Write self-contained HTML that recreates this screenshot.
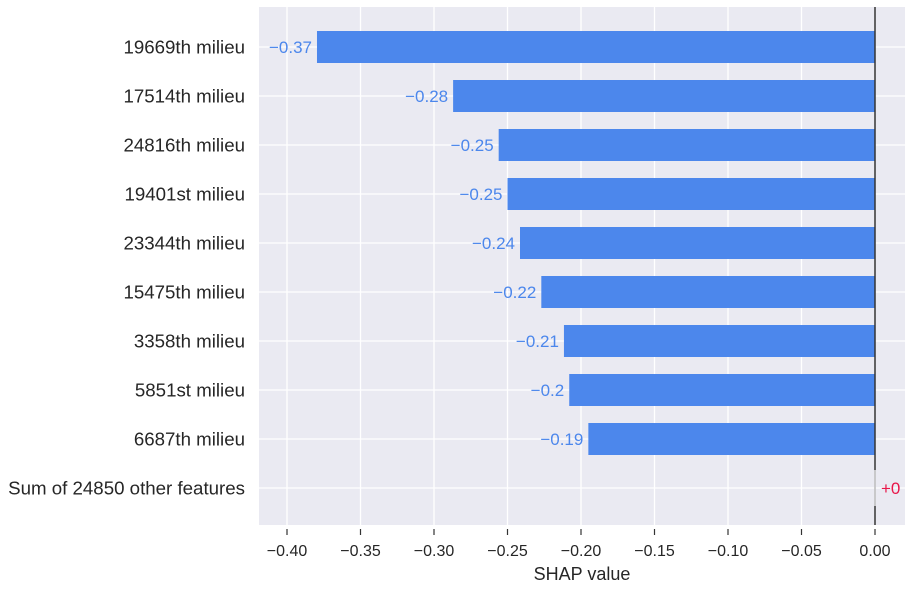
<!DOCTYPE html>
<html><head><meta charset="utf-8"><style>
body{margin:0;background:#fff;width:911px;height:588px;overflow:hidden}
text{font-family:"Liberation Sans",sans-serif}
</style></head><body>
<svg id="c" width="911" height="588"></svg>
<script>
const features=["19669th milieu","17514th milieu","24816th milieu","19401st milieu","23344th milieu","15475th milieu","3358th milieu","5851st milieu","6687th milieu","Sum of 24850 other features"];
const values=[-0.3796,-0.287,-0.256,-0.250,-0.2415,-0.227,-0.2116,-0.208,-0.195,0];
const valueLabels=["\u22120.37","\u22120.28","\u22120.25","\u22120.25","\u22120.24","\u22120.22","\u22120.21","\u22120.2","\u22120.19","+0"];
const ticks=[-0.40,-0.35,-0.30,-0.25,-0.20,-0.15,-0.10,-0.05,0.00];
const tickLabels=["\u22120.40","\u22120.35","\u22120.30","\u22120.25","\u22120.20","\u22120.15","\u22120.10","\u22120.05","0.00"];
const L=259,R=905,T=7,B=525;
const x=v=>875+v*1470;
const y=i=>47+i*49;
const svg=document.getElementById('c');const NS="http://www.w3.org/2000/svg";
function mk(t,a,p){const e=document.createElementNS(NS,t);for(const k in a)e.setAttribute(k,a[k]);(p||svg).appendChild(e);return e;}
let bg=mk('rect',{x:L,y:T,width:R-L,height:B-T,fill:'#eaeaf2'});


ticks.forEach((t,i)=>{
 let g=mk('line',{x1:x(t),x2:x(t),y1:T,y2:B,stroke:'#fff','stroke-width':1.3});
 
 
 let tk=mk('line',{x1:x(t),x2:x(t),y1:B+4,y2:B+10,stroke:'#333','stroke-width':1.2});
 
 
 let tl=mk('text',{x:x(t),y:B+31,'text-anchor':'middle','font-size':16,fill:'#262626'});tl.textContent=tickLabels[i];
 
 
});
features.forEach((f,i)=>{
 let g=mk('line',{x1:L,x2:R,y1:y(i),y2:y(i),stroke:'#fff','stroke-width':1.3});
 
 
 let lab=mk('text',{x:245,y:y(i)+6.5,'text-anchor':'end','font-size':18.7,fill:'#262626'});lab.textContent=f;
 
 
});
values.forEach((v,i)=>{
 if(v<0){
  let b=mk('rect',{x:x(v),y:y(i)-16,width:x(0)-x(v),height:32,fill:'#4c87ec'});
  
  
  let t=mk('text',{x:x(v)-5,y:y(i)+6,'text-anchor':'end','font-size':17,fill:'#4c87ec'});t.textContent=valueLabels[i];
  
  
 } else {
  let t=mk('text',{x:x(v)+6,y:y(i)+6,'text-anchor':'start','font-size':17,fill:'#e8174a'});t.textContent=valueLabels[i];
  
  
 }
});
let z1=mk('line',{x1:x(0),x2:x(0),y1:T,y2:y(9)-18,stroke:'#333','stroke-width':1.5});


let z2=mk('line',{x1:x(0),x2:x(0),y1:y(9)-18,y2:y(9)+18,stroke:'#bbb','stroke-width':1.5});


let z3=mk('line',{x1:x(0),x2:x(0),y1:y(9)+18,y2:B,stroke:'#333','stroke-width':1.5});


let xt=mk('text',{x:582,y:580,'text-anchor':'middle','font-size':18,fill:'#262626'});xt.textContent='SHAP value';


</script>
</body></html>
